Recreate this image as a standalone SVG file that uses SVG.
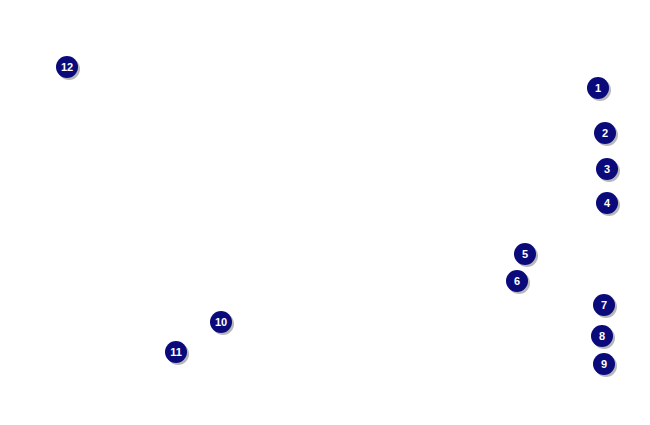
<svg xmlns="http://www.w3.org/2000/svg" width="650" height="425" viewBox="0 0 650 425">
<style>
.s{fill:#9a9a9a;opacity:0.7}
.c{fill:#0a0a7a}
.t{fill:#fff;font-family:"Liberation Sans",Arial,sans-serif;font-weight:bold;font-size:11px;text-anchor:middle}
</style>
<defs><g id="b"><circle class="s" cx="2" cy="2" r="11"/><circle class="c" r="11"/></g></defs>
<rect width="650" height="425" fill="#fff"/>
<g id="n1"><use href="#b" x="598" y="88"/><text class="t" x="598" y="92">1</text></g>
<g id="n2"><use href="#b" x="605" y="133"/><text class="t" x="605" y="137">2</text></g>
<g id="n3"><use href="#b" x="607" y="169"/><text class="t" x="607" y="173">3</text></g>
<g id="n4"><use href="#b" x="607" y="203"/><text class="t" x="607" y="207">4</text></g>
<g id="n5"><use href="#b" x="525" y="254"/><text class="t" x="525" y="258">5</text></g>
<g id="n6"><use href="#b" x="517" y="281"/><text class="t" x="517" y="285">6</text></g>
<g id="n7"><use href="#b" x="604" y="305"/><text class="t" x="604" y="309">7</text></g>
<g id="n8"><use href="#b" x="602" y="336"/><text class="t" x="602" y="340">8</text></g>
<g id="n9"><use href="#b" x="604" y="364"/><text class="t" x="604" y="368">9</text></g>
<g id="n10"><use href="#b" x="221" y="322"/><text class="t" x="221" y="326">10</text></g>
<g id="n11"><use href="#b" x="176" y="352"/><text class="t" x="176" y="356">11</text></g>
<g id="n12"><use href="#b" x="67" y="67"/><text class="t" x="67" y="71">12</text></g>
<g id="connectors"/>
</svg>
